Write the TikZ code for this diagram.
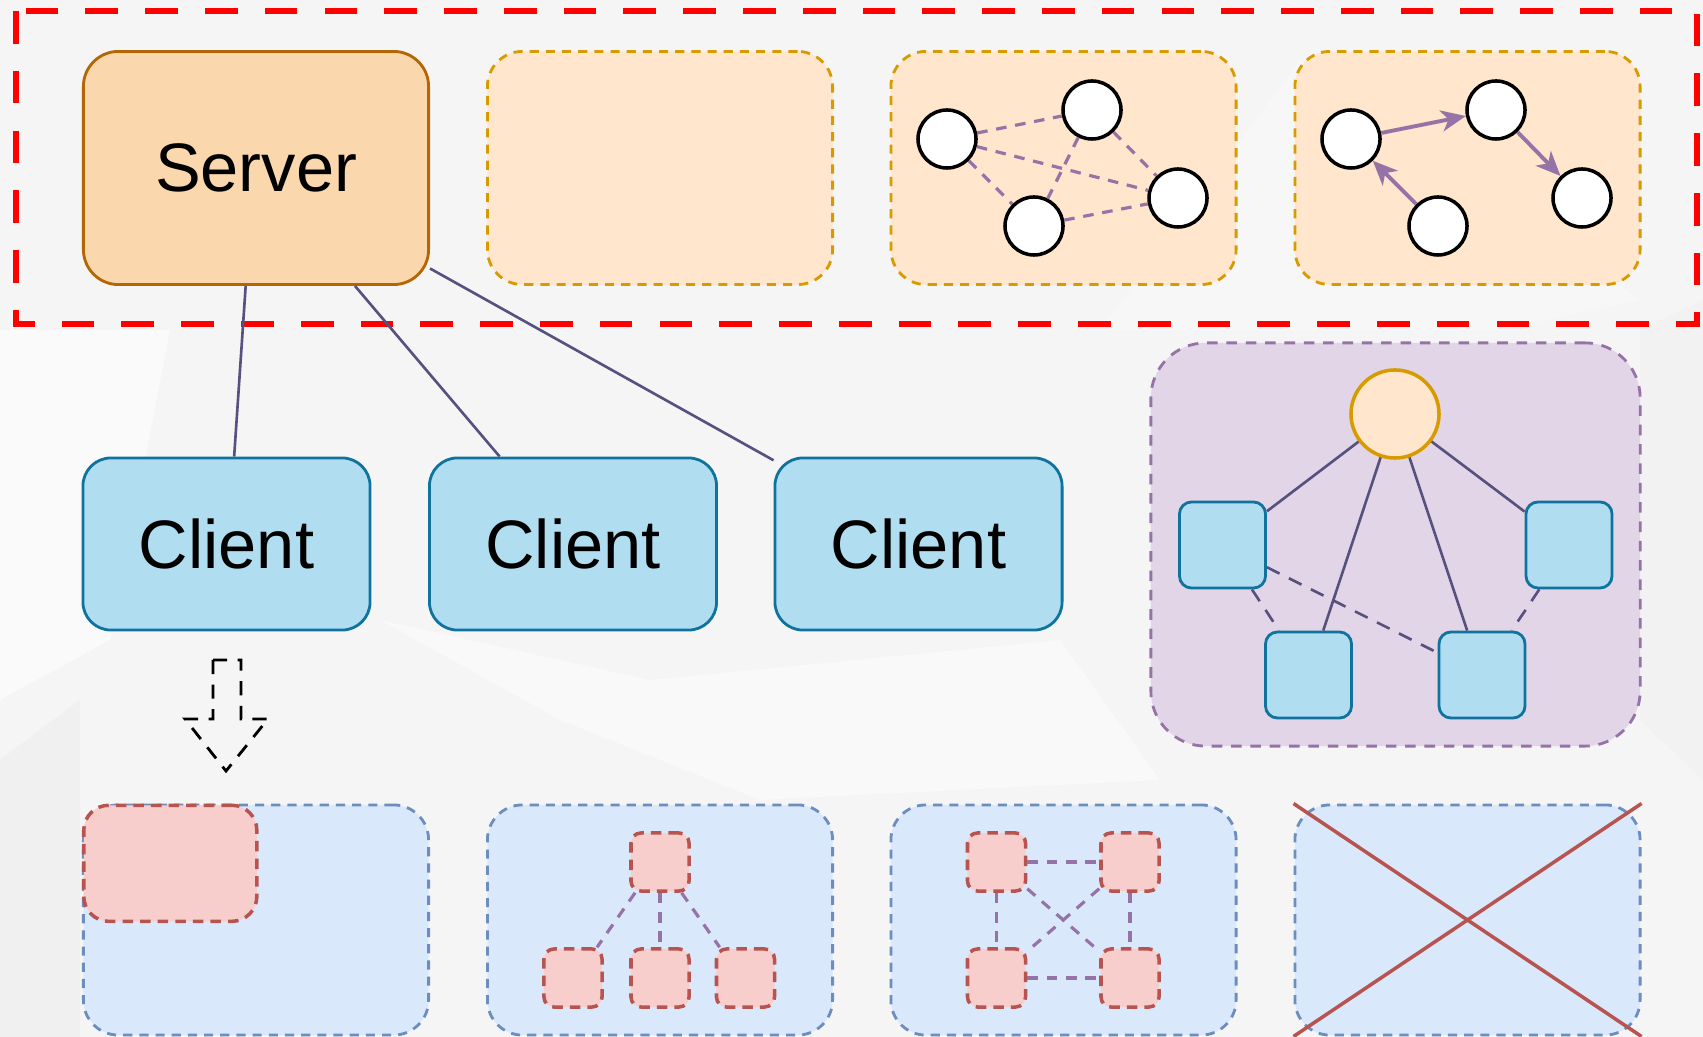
\documentclass[tikz,border=0pt]{standalone}
\usepackage{fontspec}
\setmainfont{Liberation Sans}
\usetikzlibrary{arrows.meta}

\definecolor{srvfill}{HTML}{FAD7AC}
\definecolor{srvline}{HTML}{B46504}
\definecolor{peach}{HTML}{FFE6CC}
\definecolor{gold}{HTML}{D79B00}
\definecolor{skyfill}{HTML}{B1DDF0}
\definecolor{skyline}{HTML}{10739E}
\definecolor{lilac}{HTML}{E1D5E7}
\definecolor{mauve}{HTML}{9673A6}
\definecolor{slate}{HTML}{56517E}
\definecolor{icefill}{HTML}{DAE8FC}
\definecolor{iceline}{HTML}{6C8EBF}
\definecolor{rosefill}{HTML}{F8CECC}
\definecolor{roseline}{HTML}{B85450}

\begin{document}
\begin{tikzpicture}[x=0.01cm,y=-0.01cm,
    box/.style={rounded corners=.35cm, minimum width=3.45cm, minimum height=2.33cm, line width=.8pt},
    stage/.style={box, draw=gold, fill=peach, dash pattern=on 2.6pt off 2pt},
    part/.style={box, minimum height=2.3cm, draw=iceline, fill=icefill, dash pattern=on 2.6pt off 2pt},
    client/.style={draw=skyline, fill=skyfill, line width=.8pt, rounded corners=.28cm,
      minimum width=2.87cm, minimum height=1.72cm, font=\fontsize{19.5}{23}\selectfont},
    peer/.style={circle, draw=black, fill=white, line width=1pt, minimum size=.58cm, inner sep=0pt},
    worker/.style={draw=skyline, fill=skyfill, line width=.8pt, rounded corners=.12cm, minimum size=.86cm},
    shard/.style={draw=roseline, fill=rosefill, line width=1pt, rounded corners=.1cm, minimum size=.58cm,
      dash pattern=on 3pt off 2pt},
    gossip/.style={mauve, line width=.9pt, dash pattern=on 3pt off 2.5pt},
    hop/.style={mauve, line width=1.1pt, -{Stealth[length=7pt,width=6pt,inset=2pt]}},
    link/.style={slate, line width=.75pt}]
  \useasboundingbox (0,0) rectangle (1703,1037);

  % backdrop
  \fill[black!4] (0,0) rectangle (1703,1037);
  \fill[black!2] (0,330) -- (170,330) -- (110,640) -- (0,700) -- cycle;
  \fill[black!2.5] (380,620) -- (650,680) -- (1060,640) -- (1160,780) -- (760,800) -- (560,720) -- cycle;
  \fill[black!6] (0,760) -- (80,700) -- (80,1037) -- (0,1037) -- cycle;
  \fill[black!5] (1640,330) -- (1703,300) -- (1703,780) -- (1640,720) -- cycle;
  \fill[black!3] (1100,330) -- (1500,330) -- (1640,300) -- (1300,60) -- cycle;

  % server side
  \draw[red, line width=1.9pt, dash pattern=on 9.3pt off 7.7pt] (16,11) rectangle (1697,324);
  \node[box, draw=srvline, fill=srvfill, font=\fontsize{19.5}{23}\selectfont] (server) at (256,168) {Server};
  \node[stage] (empty) at (660,168) {};
  \node[stage] (mesh) at (1063.5,168) {};
  \node[stage] (ring) at (1467.5,168) {};

  \node[peer] (m1) at (947,139) {};
  \node[peer] (m2) at (1092,110) {};
  \node[peer] (m3) at (1178,198) {};
  \node[peer] (m4) at (1034,226) {};
  \foreach \a/\b in {m1/m2,m1/m3,m1/m4,m2/m3,m2/m4,m4/m3}
    \draw[gossip] (\a) -- (\b);

  \node[peer] (r1) at (1351,139) {};
  \node[peer] (r2) at (1496,110) {};
  \node[peer] (r3) at (1582,198) {};
  \node[peer] (r4) at (1438,226) {};
  \draw[hop] (r1) -- (r2);
  \draw[hop] (r2) -- (r3);
  \draw[hop] (r4) -- (r1);

  % clients
  \node[client] (c1) at (226.5,544) {Client};
  \node[client] (c2) at (573,544) {Client};
  \node[client] (c3) at (918.5,544) {Client};
  \draw[link] (server.265.6) -- (c1.85);
  \draw[link] (server.310) -- (c2.130.3);
  \draw[link] (server.330.3) -- (c3.150.4);

  % hierarchical group
  \node[draw=mauve, fill=lilac, line width=.8pt, dash pattern=on 3pt off 2.5pt, rounded corners=.55cm,
    minimum width=4.89cm, minimum height=4.03cm] (group) at (1395.5,544.5) {};
  \node[circle, draw=gold, fill=peach, line width=1pt, minimum size=.88cm] (hub) at (1395,414) {};
  \node[worker] (w1) at (1222.5,545) {};
  \node[worker] (w2) at (1569,545) {};
  \node[worker] (w3) at (1308.5,675) {};
  \node[worker] (w4) at (1482,675) {};
  \foreach \w in {w1,w2,w3,w4}
    \draw[link] (hub) -- (\w);
  \foreach \a/\b in {w1/w3,w1/w4,w2/w4}
    \draw[link, dash pattern=on 4pt off 3pt] (\a) -- (\b);

  % split arrow
  \draw[black, line width=.8pt, dash pattern=on 4pt off 3pt] (213,660) -- (241,660) -- (241,719) -- (268,719)
    -- (226,771) -- (185,719) -- (213,719) -- cycle;

  % data partitions
  \node[part] (p1) at (256,920) {};
  \node[part] (p2) at (660,920) {};
  \node[part] (p3) at (1063.5,920) {};
  \node[part] (p4) at (1467.5,920) {};

  \node[shard, anchor=north west, minimum width=1.73cm, minimum height=1.16cm, rounded corners=.25cm]
    (s0) at (p1.north west) {};

  \node[shard] (t0) at (660,862) {};
  \node[shard] (t1) at (573,978) {};
  \node[shard] (t2) at (660,978) {};
  \node[shard] (t3) at (745.5,978) {};
  \draw[gossip] (t0.231.6) -- (t1.52.8);
  \draw[gossip] (t0) -- (t2);
  \draw[gossip] (t0.305.9) -- (t3.130.2);

  \node[shard] (g1) at (996.5,862) {};
  \node[shard] (g2) at (1130,862) {};
  \node[shard] (g3) at (996.5,978) {};
  \node[shard] (g4) at (1130,978) {};
  \foreach \a/\b in {g1/g2,g3/g4,g1/g3,g2/g4,g1/g4,g2/g3}
    \draw[gossip] (\a) -- (\b);

  \draw[roseline, line width=1pt] (p4.north west) -- (p4.south east) (p4.north east) -- (p4.south west);
\end{tikzpicture}
\end{document}
